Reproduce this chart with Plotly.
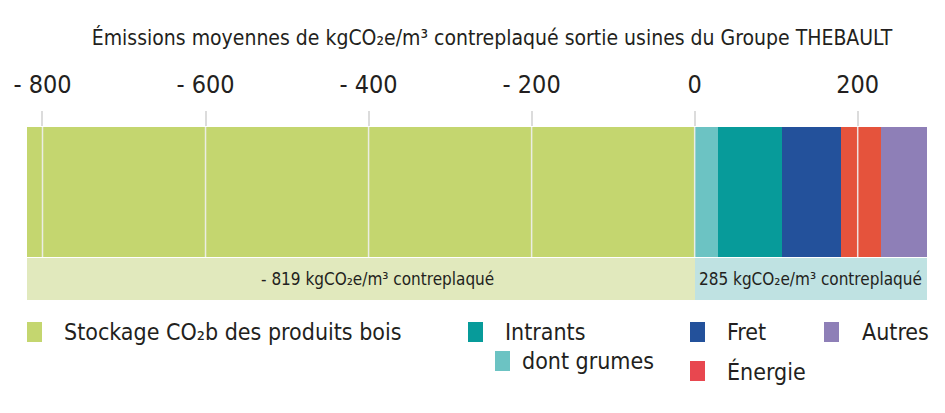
import plotly.graph_objects as go

# valeurs en kgCO2e / m3 de contreplaqué
categories = ["Stockage CO₂b des produits bois", "dont grumes", "Intrants", "Fret", "Énergie", "Autres"]
values = [-819, 29, 78, 73, 49, 56]
colors = ["#c4d66f", "#6cc3c3", "#079b9a", "#23519b", "#e5533c", "#8e7fb7"]
band_colors = ["#e1e9bd", "#bfe2e2"]
tick_vals = [-800, -600, -400, -200, 0, 200]
tick_text = ["- 800", "- 600", "- 400", "- 200", "0", "200"]

FONT = "Liberation Sans Narrow, DejaVu Sans Condensed, sans-serif"
TXT = "#231f20"

W, H = 945, 413
L, R, T, B = 27, 18, 127, 113
PW, PH = W - L - R, H - T - B

# rows of the chart (y in pixel-like units)
bar_y, bar_w = 108, 130
band_y, band_w = 21, 42

fig = go.Figure()

for name, v, c in zip(categories, values, colors):
    fig.add_trace(go.Bar(
        x=[v], y=[bar_y], width=bar_w, orientation="h", name=name,
        marker=dict(color=c, line=dict(width=0)), showlegend=False, hoverinfo="x+name"
    ))

neg_total = sum(v for v in values if v < 0)
pos_total = sum(v for v in values if v > 0)
fig.add_trace(go.Bar(x=[neg_total], y=[band_y], width=band_w, orientation="h",
                     marker=dict(color=band_colors[0], line=dict(width=0)), showlegend=False))
fig.add_trace(go.Bar(x=[pos_total], y=[band_y], width=band_w, orientation="h",
                     marker=dict(color=band_colors[1], line=dict(width=0)), showlegend=False))

# totals written in the band
for xm, t, shift in [(neg_total / 2, "- %d kgCO₂e/m³ contreplaqué" % abs(neg_total), 17),
                     (pos_total / 2, "%d kgCO₂e/m³ contreplaqué" % pos_total, 0)]:
    fig.add_annotation(x=xm, y=band_y, xref="x", yref="y", text=t, showarrow=False, xshift=shift,
                       font=dict(family=FONT, size=17, color=TXT))

# white grid lines over the bar
for tv in tick_vals:
    fig.add_shape(type="line", xref="x", yref="y", x0=tv, x1=tv,
                  y0=bar_y - bar_w / 2, y1=bar_y + bar_w / 2,
                  line=dict(color="rgba(240,240,240,0.9)", width=1.5), layer="above")


def px(xp):
    return (xp - L) / PW


def py(yp):
    return (H - B - yp) / PH


# custom legend (positions in pixels)
legend_items = [
    ("Stockage CO₂b des produits bois", colors[0], 27, 332, 62),
    ("Intrants", colors[2], 468, 332, 503),
    ("dont grumes", colors[1], 495, 361, 520),
    ("Fret", colors[3], 690, 332, 725),
    ("Énergie", "#e8474f", 690, 371, 725),
    ("Autres", colors[5], 824, 332, 860),
]
for text, c, sx, sy, tx in legend_items:
    fig.add_shape(type="rect", xref="paper", yref="paper",
                  x0=px(sx), x1=px(sx + 15), y0=py(sy + 10), y1=py(sy - 10),
                  fillcolor=c, line=dict(width=0))
    fig.add_annotation(x=px(tx), y=py(sy), xref="paper", yref="paper", text=text,
                       showarrow=False, xanchor="left", yanchor="middle",
                       font=dict(family=FONT, size=23, color=TXT))

fig.update_layout(
    barmode="relative",
    bargap=0,
    width=W, height=H,
    margin=dict(l=L, r=R, t=T, b=B),
    paper_bgcolor="white", plot_bgcolor="white",
    title=dict(text="Émissions moyennes de kgCO₂e/m³ contreplaqué sortie usines du Groupe THEBAULT",
               x=492 / W, xanchor="center", y=1 - 38 / H, yanchor="middle",
               font=dict(family=FONT, size=21, color=TXT)),
    xaxis=dict(range=[neg_total, pos_total], side="top", tickvals=tick_vals, ticktext=tick_text,
               showgrid=False, zeroline=False, showline=False,
               ticks="outside", ticklen=15, tickwidth=1.5, tickcolor="#dcdcdc",
               ticklabelstandoff=8,
               tickfont=dict(family=FONT, size=25, color=TXT), fixedrange=True),
    yaxis=dict(range=[0, PH], visible=False, fixedrange=True),
)

# drop the default page margin so the figure sits at the window corner
fig.write_html("out.html", config={"displayModeBar": False},
               post_script="document.body.style.margin='0';document.body.style.overflow='hidden';")
